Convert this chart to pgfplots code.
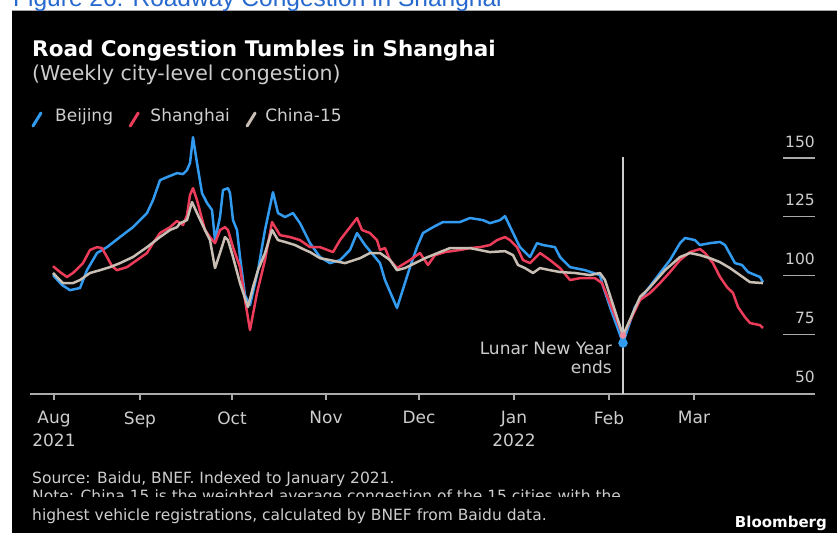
\documentclass[border=0pt]{standalone}
\usepackage{pgfplots}
\pgfplotsset{compat=1.18}
\usepackage{fontspec}
\setmainfont{DejaVu Sans}
\newfontfamily\headfont{Liberation Sans}
\usetikzlibrary{calc}
\definecolor{bjblue}{RGB}{50,155,240}
\definecolor{shred}{RGB}{235,60,90}
\definecolor{cngrey}{RGB}{200,190,180}
\definecolor{txtgrey}{RGB}{205,205,205}
\definecolor{headblue}{RGB}{40,105,205}
\definecolor{axgrey}{RGB}{170,170,170}
\begin{document}
\begin{tikzpicture}[x=1pt,y=1pt]
\useasboundingbox (0,0) rectangle (837,533);
\clip (0,0) rectangle (837,533);
\fill[white] (0,0) rectangle (837,533);
\fill[black] (12,0) rectangle (837,523);
\draw[gray!70, line width=0.8pt] (12,523) -- (837,523);
% header
\node[anchor=base west, inner sep=0, text=headblue, font=\headfont\fontsize{24.5}{28}\selectfont] at (13,526) {Figure 26: Roadway Congestion in Shanghai};
\node[anchor=base west, inner sep=0, text=white, font=\bfseries\fontsize{21.5}{24}\selectfont] at (32,476) {Road Congestion Tumbles in Shanghai};
\node[anchor=base west, inner sep=0, text=txtgrey, font=\fontsize{20.5}{24}\selectfont] at (32,452) {(Weekly city-level congestion)};
% legend
\draw[bjblue, line width=3pt, line cap=round] (33,407) -- (41,420);
\node[anchor=base west, inner sep=0, text=txtgrey, font=\fontsize{17}{20}\selectfont] (l1) at (55,411) {Beijing};
\draw[shred, line width=3pt, line cap=round] ($(l1.base east)+(17,-4)$) -- ++(8,13);
\node[anchor=base west, inner sep=0, text=txtgrey, font=\fontsize{17}{20}\selectfont] (l2) at ($(l1.base east)+(37,0)$) {Shanghai};
\draw[cngrey, line width=3pt, line cap=round] ($(l2.base east)+(17,-4)$) -- ++(8,13);
\node[anchor=base west, inner sep=0, text=txtgrey, font=\fontsize{17}{20}\selectfont] (l3) at ($(l2.base east)+(35,0)$) {China-15};
% footer
\node[anchor=base west, inner sep=0, text=txtgrey, font=\fontsize{15.5}{19}\selectfont] at (32,50) {Source: Baidu, BNEF. Indexed to January 2021.};
\node[anchor=base west, inner sep=0, text=txtgrey, font=\fontsize{15.5}{19}\selectfont] at (32,32) {Note: China 15 is the weighted average congestion of the 15 cities with the};
\fill[black] (20,27) rectangle (760,36);
\node[anchor=base west, inner sep=0, text=txtgrey, font=\fontsize{15.5}{19}\selectfont] at (32,13) {highest vehicle registrations, calculated by BNEF from Baidu data.};
\node[anchor=base east, inner sep=0, text=white, font=\bfseries\fontsize{15}{18}\selectfont] at (827,6) {Bloomberg};
\begin{axis}[
  at={(30pt,139pt)}, anchor=south west,
  scale only axis, width=785pt, height=264.1pt,
  xmin=30, xmax=815, ymin=49.6, ymax=162,
  axis x line*=bottom, axis y line=none,
  x axis line style={draw=axgrey, line width=1.2pt},
  xtick={54,140,232,326,419,514,609,694},
  xticklabels={{Aug\\2021},Sep,Oct,Nov,Dec,{Jan\\2022},Feb,Mar},
  xticklabel style={align=center, text=txtgrey, font=\fontsize{17}{23}\selectfont, yshift=-8pt},
  tick align=outside, major tick length=6pt,
  tick style={draw=axgrey, line width=1.2pt},
  clip=false,
]
% y scale marks
\foreach \v in {75,100,125,150} {
  \edef\tmp{\noexpand\draw[axgrey, line width=1.2pt] (axis cs:783,\v) -- (axis cs:815,\v);}\tmp
}
\foreach \v in {50,75,100,125,150} {
  \edef\tmp{\noexpand\node[anchor=base east, inner sep=0, text=txtgrey, font=\noexpand\fontsize{15.5}{18}\noexpand\selectfont] at (axis cs:815,\v+4.7) {\v};}\tmp
}
% Lunar New Year marker
\draw[txtgrey, line width=1.2pt] (axis cs:623,150.5) -- (axis cs:623,49.6);
\node[anchor=base east, inner sep=0, text=txtgrey, font=\fontsize{17}{20}\selectfont] at (axis cs:612,66.6) {Lunar New Year};
\node[anchor=base east, inner sep=0, text=txtgrey, font=\fontsize{17}{20}\selectfont] at (axis cs:612,58.3) {ends};

\addplot[bjblue, line width=2.5pt, line join=round] coordinates {
(53,100.2)(62,96.0)(70,93.8)(80,94.7)(87,102.3)(97,109.6)(107,112.1)(120,116.4)(133,120.6)(147,126.6)(153,132.1)(160,140.6)(167,141.9)(177,143.6)(183,143.2)(187,144.9)(190,147.9)(193,158.9)(197,147.9)(202,135.1)(207,130.9)(212,127.9)(215,115.1)(220,124.9)(223,136.4)(228,137.2)(230,135.1)(233,123.6)(237,119.4)(240,107.9)(245,91.7)(250,87.4)(258,102.3)(265,119.4)(273,135.5)(278,126.6)(285,124.9)(293,126.6)(300,122.3)(310,113.8)(320,107.9)(330,105.3)(340,106.6)(350,110.9)(357,118.1)(365,113.0)(380,105.3)(385,98.1)(397,86.2)(410,103.6)(417,112.1)(423,118.1)(433,120.6)(443,122.8)(460,122.8)(470,124.5)(483,123.6)(490,122.3)(500,123.6)(505,125.3)(515,116.4)(520,112.1)(530,107.9)(537,113.8)(543,113.0)(555,112.1)(560,107.9)(570,103.6)(585,102.3)(600,100.2)(602,96.8)(610,86.6)(623,71.3)(635,86.6)(645,92.6)(660,101.1)(670,106.6)(680,113.8)(685,116.0)(695,115.1)(700,113.0)(710,113.8)(720,114.3)(725,113.0)(735,105.3)(742,104.5)(748,101.5)(760,99.4)(763,97.2)
};
\addplot[shred, line width=2.5pt, line join=round] coordinates {
(53,104.0)(60,101.5)(67,99.4)(73,101.1)(83,105.3)(90,110.9)(97,112.1)(102,111.7)(107,107.9)(112,104.0)(117,102.3)(127,103.6)(137,106.6)(147,109.6)(153,113.8)(160,118.1)(170,120.6)(177,123.2)(183,121.5)(187,125.7)(190,134.3)(193,137.2)(197,132.1)(205,119.4)(210,116.4)(215,113.8)(220,119.4)(225,120.6)(228,119.4)(233,112.1)(240,103.6)(245,89.6)(250,76.8)(257,92.6)(265,106.6)(272,122.8)(280,117.2)(290,116.4)(300,115.1)(310,112.1)(320,112.1)(333,110.0)(340,115.1)(350,120.6)(357,124.5)(362,119.4)(370,118.1)(377,115.1)(380,110.9)(385,111.7)(390,106.6)(397,103.2)(410,106.6)(420,109.6)(428,104.5)(435,108.7)(445,110.0)(460,110.9)(470,111.7)(480,112.1)(490,113.0)(497,115.1)(505,116.4)(510,115.1)(517,112.1)(523,106.6)(530,105.3)(540,109.6)(550,106.6)(560,103.2)(570,98.1)(580,98.9)(595,98.9)(602,96.8)(623,74.5)(640,89.6)(650,92.6)(660,96.8)(670,101.5)(680,106.6)(690,110.0)(700,111.3)(705,109.6)(713,105.3)(720,99.4)(727,95.1)(733,92.6)(738,86.6)(745,82.3)(750,79.8)(760,78.9)(763,77.7)
};
\addplot[cngrey, line width=2.5pt, line join=round] coordinates {
(53,101.1)(63,96.8)(73,96.8)(80,98.1)(90,101.1)(100,102.3)(110,103.6)(120,105.3)(133,107.9)(147,112.1)(160,116.4)(170,119.4)(177,120.6)(180,122.3)(187,123.6)(192,131.3)(197,126.6)(205,119.4)(210,115.1)(215,103.2)(220,109.6)(225,116.4)(228,115.1)(233,107.9)(240,96.8)(248,86.6)(253,95.1)(258,102.3)(265,109.6)(272,119.4)(278,115.1)(285,114.3)(295,113.0)(305,110.9)(310,110.0)(320,107.4)(330,106.6)(345,105.3)(360,107.4)(370,109.6)(380,109.6)(390,106.6)(397,102.3)(405,103.2)(415,105.3)(425,107.4)(440,110.0)(450,111.7)(470,111.7)(490,110.0)(505,110.4)(513,108.7)(518,104.5)(525,103.2)(533,101.1)(540,103.2)(550,102.3)(560,101.5)(575,101.1)(590,100.2)(600,101.1)(605,98.1)(623,74.5)(640,90.9)(650,95.1)(665,102.3)(680,107.9)(690,109.6)(700,108.7)(710,107.4)(720,105.7)(730,103.2)(740,100.2)(750,97.2)(763,96.8)
};
\addplot[only marks, mark=*, mark size=4.5pt, bjblue] coordinates {(623,71.3)};
\addplot[only marks, mark=*, mark size=3pt, shred!60!white] coordinates {(623,74.5)};
\end{axis}
\end{tikzpicture}
\end{document}
